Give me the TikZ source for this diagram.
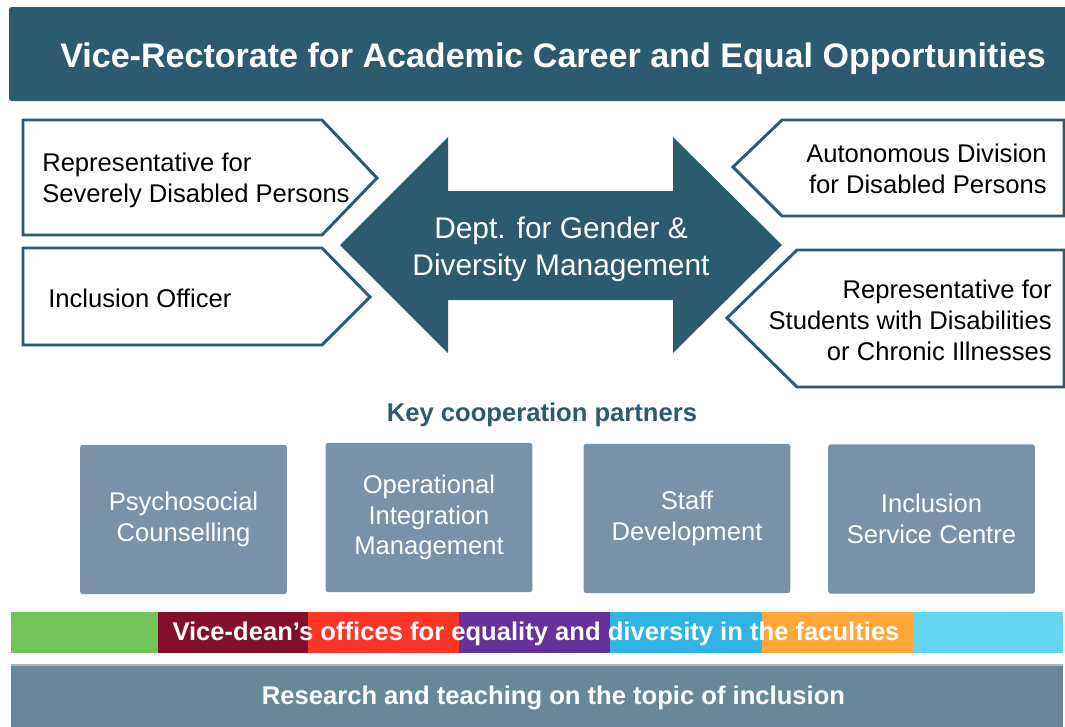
\documentclass[tikz,border=0pt]{standalone}
\usepackage{fontspec}
\setmainfont{Liberation Sans}
\usepackage{tikz}
\usetikzlibrary{positioning,calc}

\definecolor{deepteal}{HTML}{2C5A6F}
\definecolor{slate}{HTML}{7A91A8}
\definecolor{greyteal}{HTML}{688897}
\definecolor{fgreen}{HTML}{72C45A}
\definecolor{fmaroon}{HTML}{830F2A}
\definecolor{fred}{HTML}{FF3525}
\definecolor{fpurple}{HTML}{65319A}
\definecolor{fblue}{HTML}{30B4E3}
\definecolor{forange}{HTML}{FFA838}
\definecolor{fsky}{HTML}{64D4F3}

\tikzset{
  banner/.style ={fill=deepteal,rounded corners=2pt},
  pent/.style   ={draw=deepteal,line width=2.2pt,fill=white,line join=miter},
  pentxt/.style ={font=\fontsize{19.2}{23.3}\selectfont,inner sep=0pt},
  partner/.style={fill=slate,rounded corners=2pt,minimum width=155pt,minimum height=112pt,
                  text=white,align=center,inner sep=0pt,font=\fontsize{19.2}{23}\selectfont},
  bold/.style   ={text=white,font=\bfseries\fontsize{19.2}{22}\selectfont,inner sep=0pt},
}

\begin{document}
\begin{tikzpicture}[x=0.75pt,y=-0.75pt]
  \useasboundingbox (0,0) rectangle (1065,726);

  % top banner
  \fill[banner] (9,7) rectangle (1075,101);
  \node[text=white,font=\bfseries\fontsize{25.55}{30}\selectfont,inner sep=0pt,anchor=west]
    (VR) at (60,59) {Vice-Rectorate for Academic Career and Equal Opportunities};

  % pointed boxes on either side
  \draw[pent] (23,120) -- (322,120) -- (377,178) -- (322,235) -- (23,235) -- cycle;
  \draw[pent] (23,248) -- (322,248) -- (370,297) -- (322,345) -- (23,345) -- cycle;
  \draw[pent] (1064,120) -- (782,120) -- (733,167) -- (782,216) -- (1064,216) -- cycle;
  \draw[pent] (1064,250) -- (797,250) -- (727,318) -- (797,387) -- (1064,387) -- cycle;
  \node[pentxt,anchor=west,align=left]  (SD) at (42,180) {Representative for\\Severely Disabled Persons};
  \node[pentxt,anchor=west,align=left]  (IO) at (48,298) {Inclusion Officer};
  \node[pentxt,anchor=east,align=right] (AD) at (1047,168.5) {Autonomous Division\\for Disabled Persons};
  \node[pentxt,anchor=east,align=right] (RS) at (1052,320.5) {Representative for\\Students with Disabilities\\or Chronic Illnesses};

  % double arrow in the middle
  \fill[deepteal] (340,245) -- (448,137) -- (448,191) -- (673,191) -- (673,137) -- (782,245)
    -- (673,353) -- (673,300) -- (448,300) -- (448,353) -- cycle;
  \node[text=white,align=center,inner sep=0pt,font=\fontsize{22.4}{27.8}\selectfont]
    (GD) at (561,249.5) {Dept. for Gender \&\\Diversity Management};

  % cooperation partners
  \node[text=deepteal,font=\bfseries\fontsize{19.2}{22}\selectfont,inner sep=0pt]
    (KP) at (542,414.5) {Key cooperation partners};
  \node[partner] (PC) at (183.5,519.5) {Psychosocial\\Counselling};
  \node[partner] (OI) at (429,517.5)   {Operational\\Integration\\Management};
  \node[partner] (SF) at (687,518.5)   {Staff\\Development};
  \node[partner] (IS) at (931.5,519) {Inclusion\\Service Centre};

  % faculty colour strip
  \foreach \c/\a/\b in {fgreen/11/158,fmaroon/158/308,fred/308/459,fpurple/459/610,
                        fblue/610/762,forange/762/913,fsky/913/1063}
    \fill[\c] (\a,612) rectangle (\b,653);
  \node[bold] (VD) at (536,633.5)
    {Vice-dean’s offices for equality and diversity in the faculties};

  % bottom bar
  \fill[greyteal] (11,665) rectangle (1063,735);
  \draw[gray!60,line width=0.8pt] (11,665) -- (1063,665);
  \node[bold] (RT) at (553.5,697.5) {Research and teaching on the topic of inclusion};
\end{tikzpicture}
\end{document}
